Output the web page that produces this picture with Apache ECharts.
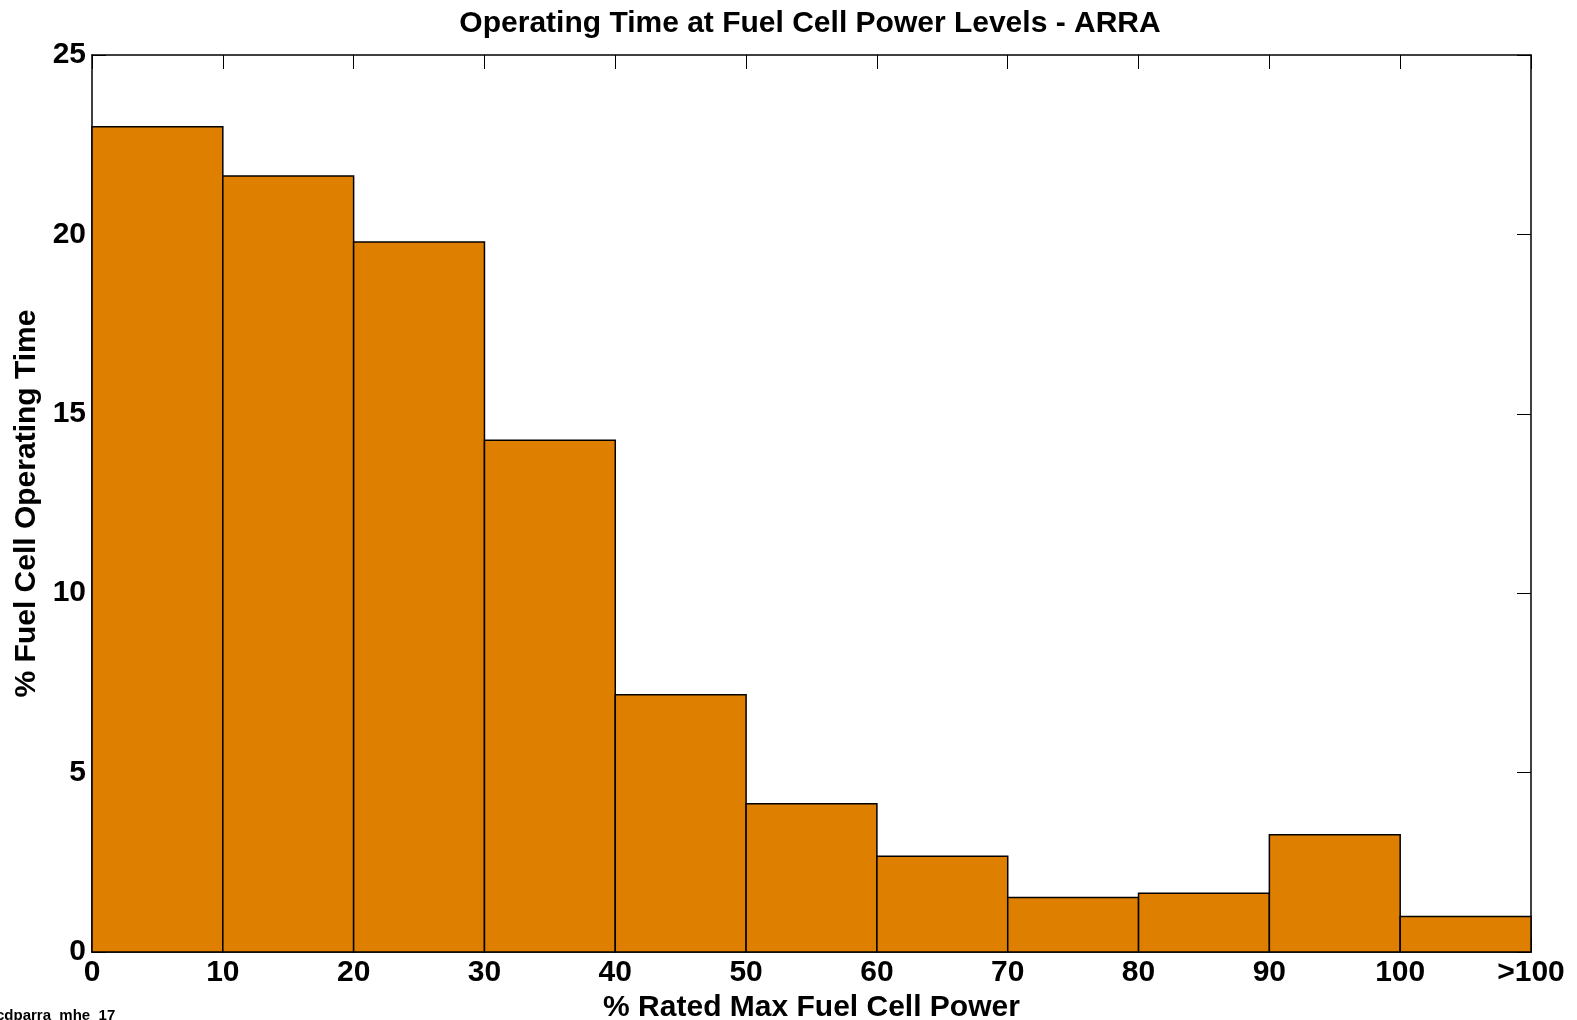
<!DOCTYPE html>
<html>
<head>
<meta charset="utf-8">
<title>Operating Time at Fuel Cell Power Levels - ARRA</title>
<script src="https://cdn.jsdelivr.net/npm/echarts@6/dist/echarts.min.js"></script>
<style>
  html, body { margin: 0; padding: 0; background: #fff; }
  #chart { width: 1577px; height: 1020px; }
</style>
</head>
<body>
<div id="chart"></div>
<script>
// bin edges (% rated max power), last bin is ">100"
const binStart = [0, 10, 20, 30, 40, 50, 60, 70, 80, 90, 100]
const binEnd = [10, 20, 30, 40, 50, 60, 70, 80, 90, 100, 110]
// % fuel cell operating time per bin
const timeShare = [23.0, 21.63, 19.79, 14.26, 7.17, 4.13, 2.67, 1.52, 1.64, 3.27, 0.99]
// x tick labels
const xTickLabels = ['0', '10', '20', '30', '40', '50', '60', '70', '80', '90', '100', '>100']

const font = '"Liberation Sans", Arial, sans-serif'
const barColor = '#DF7F00'
const fs = 30

const chart = echarts.init(document.getElementById('chart'))

const bins = binStart.map((s, i) => [s, binEnd[i], timeShare[i]])

// 四边框 + 向内刻度 (MATLAB 风格)
const boxAxisLine = { show: true, onZero: false, lineStyle: { color: '#000', width: 1.5 } }
const inTick = { show: true, inside: true, length: 14, lineStyle: { color: '#000', width: 1 } }

const option = {
  animation: false,
  backgroundColor: '#fff',
  textStyle: { fontFamily: font },
  title: {
    text: 'Operating Time at Fuel Cell Power Levels - ARRA',
    left: 805,
    textAlign: 'center',
    top: 4,
    textStyle: { fontFamily: font, fontWeight: 'bold', fontSize: fs, color: '#000' }
  },
  grid: { left: 92, right: 46, top: 55, bottom: 68, outerBoundsMode: 'none', containLabel: false },
  xAxis: [
    {
      type: 'value',
      position: 'bottom',
      min: 0,
      max: 110,
      interval: 10,
      name: '% Rated Max Fuel Cell Power',
      nameLocation: 'middle',
      nameGap: 38,
      nameTextStyle: { fontFamily: font, fontWeight: 'bold', fontSize: fs, color: '#000' },
      axisLine: boxAxisLine,
      axisTick: inTick,
      axisLabel: {
        show: true,
        margin: 6,
        fontFamily: font,
        fontWeight: 'bold',
        fontSize: fs,
        color: '#000',
        formatter: v => xTickLabels[Math.round(v / 10)]
      },
      splitLine: { show: false }
    },
    {
      type: 'value',
      position: 'top',
      min: 0,
      max: 110,
      interval: 10,
      axisLine: boxAxisLine,
      axisTick: inTick,
      axisLabel: { show: false },
      splitLine: { show: false }
    }
  ],
  yAxis: [
    {
      type: 'value',
      position: 'left',
      min: 0,
      max: 25,
      interval: 5,
      name: '% Fuel Cell Operating Time',
      nameLocation: 'middle',
      nameGap: 47,
      nameTextStyle: { fontFamily: font, fontWeight: 'bold', fontSize: fs, color: '#000' },
      axisLine: boxAxisLine,
      axisTick: inTick,
      axisLabel: { margin: 6, fontFamily: font, fontWeight: 'bold', fontSize: fs, color: '#000' },
      splitLine: { show: false }
    },
    {
      type: 'value',
      position: 'right',
      min: 0,
      max: 25,
      interval: 5,
      axisLine: boxAxisLine,
      axisTick: inTick,
      axisLabel: { show: false },
      splitLine: { show: false }
    }
  ],
  series: [
    {
      type: 'custom',
      xAxisIndex: 0,
      yAxisIndex: 0,
      data: bins,
      encode: { x: [0, 1], y: 2 },
      renderItem: (params, api) => {
        const p0 = api.coord([api.value(0), api.value(2)])
        const p1 = api.coord([api.value(1), 0])
        return {
          type: 'rect',
          shape: { x: p0[0], y: p0[1], width: p1[0] - p0[0], height: p1[1] - p0[1] },
          style: { fill: barColor, stroke: '#000', lineWidth: 1.5 }
        }
      }
    }
  ],
  graphic: [
    {
      type: 'text',
      left: -4,
      top: 1008,
      style: { text: 'cdparra_mhe_17', font: 'bold 15px ' + font, fill: '#000' }
    }
  ]
}

chart.setOption(option)
window.addEventListener('resize', () => chart.resize())
</script>
</body>
</html>
